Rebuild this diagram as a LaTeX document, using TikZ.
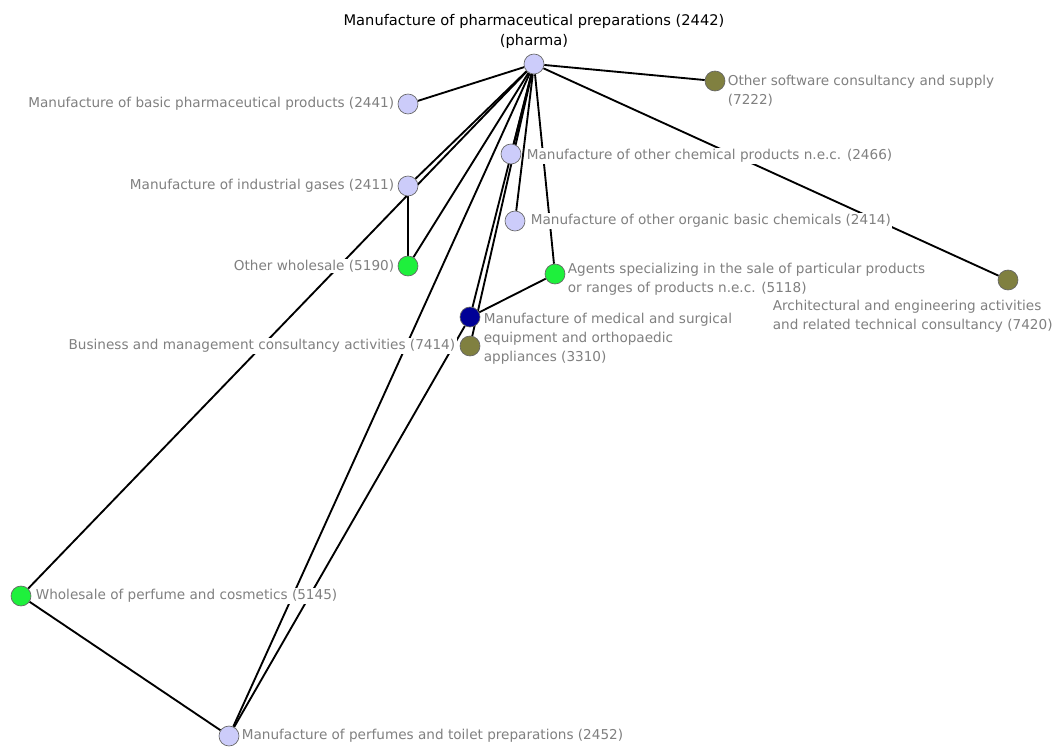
\documentclass[tikz,border=0pt]{standalone}
\usepackage{fontspec}
\setmainfont{DejaVu Sans}
\usetikzlibrary{backgrounds}

\definecolor{lavender}{RGB}{204,204,250}
\definecolor{brightgreen}{RGB}{30,240,60}
\definecolor{darkblue}{RGB}{0,0,150}
\definecolor{olive}{RGB}{128,128,64}
\definecolor{labelgray}{RGB}{128,128,128}

\tikzset{every picture/.style={line width=0.75pt}}
\tikzset{
  vertex/.style={circle, draw=black!60, line width=0.5pt, minimum size=15pt, inner sep=0pt},
  lav/.style={vertex, fill=lavender},
  grn/.style={vertex, fill=brightgreen},
  blu/.style={vertex, fill=darkblue},
  olv/.style={vertex, fill=olive},
  lbl/.style={text=labelgray, fill=white, inner sep=1pt, align=left, font=\fontsize{10.2}{14.3}\selectfont},
  link/.style={line width=1.4pt}
}

\begin{document}
\begin{tikzpicture}[x=0.75pt,y=0.75pt,yscale=-1]
\useasboundingbox (0,0) rectangle (1058,747);

%Nodes
\node[lav] (pharma) at (534,64) {};
\node[lav] (n2441) at (408,104) {};
\node[olv] (n7222) at (715,81) {};
\node[lav] (n2466) at (511,154) {};
\node[lav] (n2411) at (408,186) {};
\node[lav] (n2414) at (515,221) {};
\node[grn] (n5190) at (408,266) {};
\node[grn] (n5118) at (555,274) {};
\node[olv] (n7420) at (1008,280) {};
\node[blu] (n3310) at (470,317) {};
\node[olv] (n7414) at (470,346) {};
\node[grn] (n5145) at (21,596) {};
\node[lav] (n2452) at (229,736) {};

% Text Node
\node[lbl, text=black, align=center, anchor=south, font=\fontsize{11}{15}\selectfont] (tpharma) at (534,50) {Manufacture of pharmaceutical preparations (2442)\\(pharma)};
% Text Node
\node[lbl, anchor=east] (t2441) at (396,104) {Manufacture of basic pharmaceutical products (2441)};
% Text Node
\node[lbl, anchor=north west] (t7222) at (726,73) {Other software consultancy and supply\\(7222)};
% Text Node
\node[lbl, anchor=west] (t2466) at (525,156) {Manufacture of other chemical products n.e.c. (2466)};
% Text Node
\node[lbl, anchor=east] (t2411) at (396,186) {Manufacture of industrial gases (2411)};
% Text Node
\node[lbl, anchor=west] (t2414) at (529,221) {Manufacture of other organic basic chemicals (2414)};
% Text Node
\node[lbl, anchor=east] (t5190) at (396,266) {Other wholesale (5190)};
% Text Node
\node[lbl, anchor=north west] (t5118) at (566,261) {Agents specializing in the sale of particular products\\or ranges of products n.e.c. (5118)};
% Text Node
\node[lbl, anchor=north west] (t7420) at (771,298) {Architectural and engineering activities\\and related technical consultancy (7420)};
% Text Node
\node[lbl, anchor=north west] (t3310) at (482,311) {Manufacture of medical and surgical\\equipment and orthopaedic\\appliances (3310)};
% Text Node
\node[lbl, anchor=east] (t7414) at (457,346) {Business and management consultancy activities (7414)};
% Text Node
\node[lbl, anchor=west] (t5145) at (34,596) {Wholesale of perfume and cosmetics (5145)};
% Text Node
\node[lbl, anchor=west] (t2452) at (240,736) {Manufacture of perfumes and toilet preparations (2452)};

%Edges
\begin{scope}[on background layer]
\foreach \tgt in {n2441,n7222,n7420,n2466,n2414,n5118,n2411,n5145,n5190,n2452,n3310,n7414}
  \draw[link] (pharma) -- (\tgt);
\draw[link] (n2411) -- (n5190);
\draw[link] (n3310) -- (n5118);
\draw[link] (n3310) -- (n2452);
\draw[link] (n5145) -- (n2452);
\end{scope}

\end{tikzpicture}
\end{document}
